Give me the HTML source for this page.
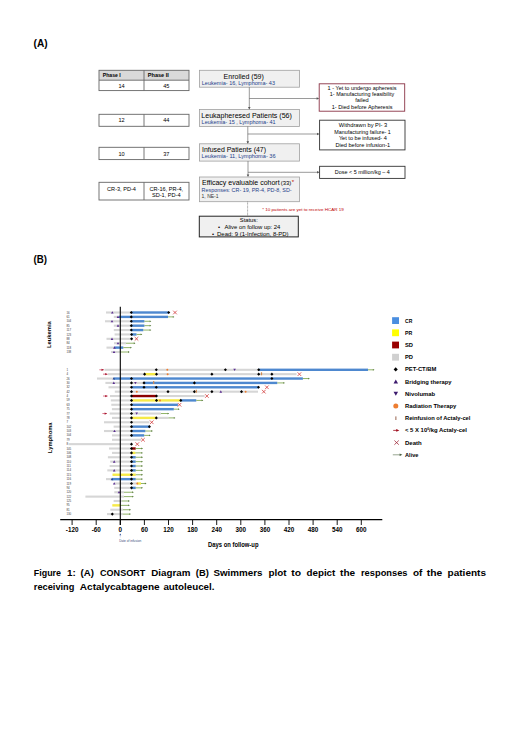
<!DOCTYPE html>
<html><head><meta charset="utf-8"><style>
html,body{margin:0;padding:0;background:#fff;}
body{width:520px;height:751px;overflow:hidden;}
svg{display:block;font-family:"Liberation Sans", sans-serif;}
</style></head><body>
<svg width="520" height="751" viewBox="0 0 520 751">
<text x="33.6" y="46.9" font-size="10" font-weight="bold" fill="#000" text-anchor="start" textLength="14.1" lengthAdjust="spacingAndGlyphs">(A)</text>
<text x="33.6" y="262.7" font-size="10" font-weight="bold" fill="#000" text-anchor="start" textLength="13.5" lengthAdjust="spacingAndGlyphs">(B)</text>
<rect x="99" y="70.3" width="90" height="9.900000000000006" fill="#d9d9d9"/>
<line x1="99" y1="80.2" x2="189" y2="80.2" stroke="#666" stroke-width="0.9"/>
<rect x="99" y="70.3" width="90" height="20.299999999999997" fill="none" stroke="#666" stroke-width="0.9"/>
<line x1="144" y1="70.3" x2="144" y2="90.6" stroke="#666" stroke-width="0.9"/>
<text x="102.8" y="77.2" font-size="5.2" font-weight="bold" fill="#000" text-anchor="start" textLength="18" lengthAdjust="spacingAndGlyphs">Phase I</text>
<text x="147.8" y="77.2" font-size="5.2" font-weight="bold" fill="#000" text-anchor="start" textLength="21" lengthAdjust="spacingAndGlyphs">Phase II</text>
<text x="121.5" y="87.6" font-size="5.6" font-weight="normal" fill="#000" text-anchor="middle">14</text>
<text x="166.3" y="87.6" font-size="5.6" font-weight="normal" fill="#000" text-anchor="middle">45</text>
<rect x="99" y="114.3" width="90" height="12.0" fill="none" stroke="#666" stroke-width="0.9"/>
<line x1="144" y1="114.3" x2="144" y2="126.3" stroke="#666" stroke-width="0.9"/>
<text x="121.5" y="122.0" font-size="5.6" font-weight="normal" fill="#000" text-anchor="middle">12</text>
<text x="166.3" y="122.0" font-size="5.6" font-weight="normal" fill="#000" text-anchor="middle">44</text>
<rect x="99" y="147.3" width="90" height="12.299999999999983" fill="none" stroke="#666" stroke-width="0.9"/>
<line x1="144" y1="147.3" x2="144" y2="159.6" stroke="#666" stroke-width="0.9"/>
<text x="121.5" y="155.5" font-size="5.6" font-weight="normal" fill="#000" text-anchor="middle">10</text>
<text x="166.3" y="155.5" font-size="5.6" font-weight="normal" fill="#000" text-anchor="middle">37</text>
<rect x="99" y="182.3" width="90" height="17.69999999999999" fill="none" stroke="#666" stroke-width="0.9"/>
<line x1="144" y1="182.3" x2="144" y2="200.0" stroke="#666" stroke-width="0.9"/>
<text x="121.5" y="190.5" font-size="5.6" font-weight="normal" fill="#000" text-anchor="middle">CR-3, PD-4</text>
<text x="166.3" y="190.5" font-size="5.6" font-weight="normal" fill="#000" text-anchor="middle">CR-16, PR-4,</text>
<text x="166.3" y="196.8" font-size="5.6" font-weight="normal" fill="#000" text-anchor="middle">SD-1, PD-4</text>
<rect x="199.5" y="70.3" width="100.0" height="16.900000000000006" fill="#f0f0f0" stroke="#a0a0a0" stroke-width="0.8"/>
<text x="243.7" y="78.8" font-size="7.2" font-weight="normal" fill="#000" text-anchor="middle" textLength="40.2" lengthAdjust="spacingAndGlyphs">Enrolled (59)</text>
<text x="201.8" y="85.2" font-size="5.0" font-weight="normal" fill="#24408a" text-anchor="start" textLength="73.2" lengthAdjust="spacingAndGlyphs">Leukemia- 16, Lymphoma- 43</text>
<rect x="199.5" y="109.5" width="100.0" height="17.0" fill="#f0f0f0" stroke="#a0a0a0" stroke-width="0.8"/>
<text x="201.3" y="117.6" font-size="7.2" font-weight="normal" fill="#000" text-anchor="start" textLength="90.6" lengthAdjust="spacingAndGlyphs">Leukapheresed Patients (56)</text>
<text x="201.6" y="124.0" font-size="5.0" font-weight="normal" fill="#24408a" text-anchor="start" textLength="74" lengthAdjust="spacingAndGlyphs">Leukemia- 15 , Lymphoma- 41</text>
<rect x="199.5" y="143.8" width="100.0" height="17.299999999999983" fill="#f0f0f0" stroke="#a0a0a0" stroke-width="0.8"/>
<text x="202.0" y="151.8" font-size="7.2" font-weight="normal" fill="#000" text-anchor="start" textLength="64" lengthAdjust="spacingAndGlyphs">Infused Patients (47)</text>
<text x="201.6" y="158.4" font-size="5.0" font-weight="normal" fill="#24408a" text-anchor="start" textLength="74" lengthAdjust="spacingAndGlyphs">Leukemia- 11, Lymphoma- 36</text>
<rect x="199.5" y="177.0" width="100.0" height="24.69999999999999" fill="#f0f0f0" stroke="#a0a0a0" stroke-width="0.8"/>
<text x="202.0" y="185.2" font-size="7.1" font-weight="normal" fill="#000" text-anchor="start" textLength="77.6" lengthAdjust="spacingAndGlyphs">Efficacy evaluable cohort</text>
<text x="280.7" y="185.2" font-size="6.0" font-weight="normal" fill="#000" text-anchor="start" textLength="10.6" lengthAdjust="spacingAndGlyphs">(33)</text>
<text x="291.7" y="184.0" font-size="6.0" font-weight="normal" fill="#c00000" text-anchor="start">*</text>
<text x="201.6" y="191.8" font-size="5.0" font-weight="normal" fill="#24408a" text-anchor="start" textLength="90" lengthAdjust="spacingAndGlyphs">Responses: CR- 19, PR-4, PD-8, SD-</text>
<text x="201.6" y="198.4" font-size="5.0" font-weight="normal" fill="#333" text-anchor="start">1, NE-1</text>
<rect x="199.3" y="216.2" width="99.0" height="20.700000000000017" fill="#f0f0f0" stroke="#222" stroke-width="1.0"/>
<text x="248.8" y="222.3" font-size="5.8" font-weight="normal" fill="#000" text-anchor="middle">Status:</text>
<text x="218.0" y="229.1" font-size="5.9" font-weight="normal" fill="#000" text-anchor="start">•</text>
<text x="224.5" y="229.1" font-size="5.9" font-weight="normal" fill="#000" text-anchor="start" textLength="55.9" lengthAdjust="spacingAndGlyphs">Alive on follow up: 24</text>
<text x="212.1" y="235.6" font-size="5.9" font-weight="normal" fill="#000" text-anchor="start">•</text>
<text x="217.0" y="235.6" font-size="5.9" font-weight="normal" fill="#000" text-anchor="start" textLength="71.6" lengthAdjust="spacingAndGlyphs">Dead: 9 (1-Infection, 8-PD)</text>
<text x="262.3" y="210.8" font-size="4.3" font-weight="normal" fill="#c00000" text-anchor="start" textLength="81.5" lengthAdjust="spacingAndGlyphs">* 10 patients are yet to receive HCAR 19</text>
<line x1="249.3" y1="87.2" x2="249.3" y2="108.5" stroke="#555" stroke-width="0.6"/>
<path d="M248.02,106.94 L250.58,106.94 L249.3,109.5 Z" fill="#555"/>
<line x1="249.3" y1="98.5" x2="318" y2="98.5" stroke="#555" stroke-width="0.6"/>
<path d="M316.64,97.22 L316.64,99.78 L319.2,98.5 Z" fill="#555"/>
<line x1="247.8" y1="126.5" x2="247.8" y2="143" stroke="#555" stroke-width="0.6"/>
<path d="M246.52,141.24 L249.08,141.24 L247.8,143.8 Z" fill="#555"/>
<line x1="247.8" y1="134.0" x2="318" y2="134.0" stroke="#555" stroke-width="0.6"/>
<path d="M317.04,132.72 L317.04,135.28 L319.6,134.0 Z" fill="#555"/>
<line x1="248" y1="161.1" x2="248" y2="176" stroke="#555" stroke-width="0.6"/>
<path d="M246.72,174.44 L249.28,174.44 L248,177.0 Z" fill="#555"/>
<line x1="248" y1="172.3" x2="318" y2="172.3" stroke="#555" stroke-width="0.6"/>
<path d="M317.04,171.02 L317.04,173.58 L319.6,172.3 Z" fill="#555"/>
<line x1="247.6" y1="201.7" x2="247.6" y2="216" stroke="#555" stroke-width="0.6" stroke-dasharray="0.8,0.6"/>
<rect x="319.2" y="83.8" width="85.5" height="27.4" fill="#fff" stroke="#8a3345" stroke-width="0.9"/>
<text x="362.1" y="89.6" font-size="5.6" font-weight="normal" fill="#000" text-anchor="middle" textLength="69" lengthAdjust="spacingAndGlyphs">1 - Yet to undergo apheresis</text>
<text x="362.0" y="95.9" font-size="5.6" font-weight="normal" fill="#000" text-anchor="middle" textLength="64.3" lengthAdjust="spacingAndGlyphs">1- Manufacturing feasibility</text>
<text x="362" y="102.2" font-size="5.6" font-weight="normal" fill="#000" text-anchor="middle">failed</text>
<text x="362.1" y="108.5" font-size="5.6" font-weight="normal" fill="#000" text-anchor="middle" textLength="60.6" lengthAdjust="spacingAndGlyphs">1- Died before Apheresis</text>
<rect x="319.6" y="120.2" width="85.4" height="29.7" fill="#fff" stroke="#333" stroke-width="0.9"/>
<text x="363.0" y="127.4" font-size="5.6" font-weight="normal" fill="#000" text-anchor="middle" textLength="48.4" lengthAdjust="spacingAndGlyphs">Withdrawn by PI- 3</text>
<text x="362.5" y="133.8" font-size="5.6" font-weight="normal" fill="#000" text-anchor="middle" textLength="56.3" lengthAdjust="spacingAndGlyphs">Manufacturing failure- 1</text>
<text x="362.9" y="140.3" font-size="5.6" font-weight="normal" fill="#000" text-anchor="middle">Yet to be infused- 4</text>
<text x="362.8" y="147.0" font-size="5.6" font-weight="normal" fill="#000" text-anchor="middle">Died before infusion-1</text>
<rect x="319.6" y="166.3" width="85.4" height="12.1" fill="#fff" stroke="#333" stroke-width="0.9"/>
<text x="362.3" y="174.2" font-size="5.6" font-weight="normal" fill="#000" text-anchor="middle" textLength="55" lengthAdjust="spacingAndGlyphs">Dose &lt; 5 million/kg – 4</text>
<rect x="106.00" y="311.45" width="25.30" height="2.1" fill="#d6d6d6"/>
<rect x="131.30" y="311.30" width="37.40" height="2.4" fill="#4e88cf"/>
<path d="M173.20,310.70 L176.80,314.30 M176.80,310.70 L173.20,314.30" stroke="#d03030" stroke-width="0.75"/>
<path d="M112.30,311.20 L113.60,313.54 L111.00,313.54 Z" fill="#5a2d91"/>
<path d="M131.30,310.95 L132.85,312.50 L131.30,314.05 L129.75,312.50 Z" fill="#000"/>
<path d="M168.70,310.95 L170.25,312.50 L168.70,314.05 L167.15,312.50 Z" fill="#000"/>
<text x="66.4" y="313.55" font-size="2.9" font-weight="normal" fill="#3a3a3a" text-anchor="start">16</text>
<rect x="113.80" y="315.84" width="5.20" height="2.1" fill="#d6d6d6"/>
<rect x="119.00" y="315.69" width="49.00" height="2.4" fill="#4e88cf"/>
<line x1="168.00" y1="316.89" x2="173.40" y2="316.89" stroke="#74a040" stroke-width="0.8"/>
<path d="M172.80,315.99 L174.40,316.89 L172.80,317.79 Z" fill="#5a7a40"/>
<path d="M118.00,315.59 L119.30,317.93 L116.70,317.93 Z" fill="#5a2d91"/>
<path d="M131.30,315.34 L132.85,316.89 L131.30,318.44 L129.75,316.89 Z" fill="#000"/>
<text x="66.4" y="317.94" font-size="2.9" font-weight="normal" fill="#3a3a3a" text-anchor="start">61</text>
<rect x="105.00" y="320.23" width="26.30" height="2.1" fill="#d6d6d6"/>
<rect x="131.30" y="320.08" width="13.10" height="2.4" fill="#4e88cf"/>
<line x1="144.40" y1="321.28" x2="150.30" y2="321.28" stroke="#74a040" stroke-width="0.8"/>
<path d="M149.70,320.38 L151.30,321.28 L149.70,322.18 Z" fill="#5a7a40"/>
<path d="M112.00,319.98 L113.30,322.32 L110.70,322.32 Z" fill="#5a2d91"/>
<path d="M131.30,319.73 L132.85,321.28 L131.30,322.83 L129.75,321.28 Z" fill="#000"/>
<text x="66.4" y="322.33" font-size="2.9" font-weight="normal" fill="#3a3a3a" text-anchor="start">104</text>
<rect x="113.80" y="324.62" width="17.50" height="2.1" fill="#d6d6d6"/>
<rect x="131.30" y="324.47" width="13.10" height="2.4" fill="#4e88cf"/>
<line x1="144.40" y1="325.67" x2="150.30" y2="325.67" stroke="#74a040" stroke-width="0.8"/>
<path d="M149.70,324.77 L151.30,325.67 L149.70,326.57 Z" fill="#5a7a40"/>
<path d="M118.00,324.37 L119.30,326.71 L116.70,326.71 Z" fill="#5a2d91"/>
<path d="M131.30,324.12 L132.85,325.67 L131.30,327.22 L129.75,325.67 Z" fill="#000"/>
<text x="66.4" y="326.72" font-size="2.9" font-weight="normal" fill="#3a3a3a" text-anchor="start">85</text>
<rect x="113.80" y="329.01" width="17.50" height="2.1" fill="#d6d6d6"/>
<rect x="131.30" y="328.86" width="12.00" height="2.4" fill="#4e88cf"/>
<line x1="143.30" y1="330.06" x2="150.30" y2="330.06" stroke="#74a040" stroke-width="0.8"/>
<path d="M149.70,329.16 L151.30,330.06 L149.70,330.96 Z" fill="#5a7a40"/>
<path d="M131.30,328.51 L132.85,330.06 L131.30,331.61 L129.75,330.06 Z" fill="#000"/>
<text x="66.4" y="331.11" font-size="2.9" font-weight="normal" fill="#3a3a3a" text-anchor="start">117</text>
<rect x="114.60" y="333.40" width="17.00" height="2.1" fill="#d6d6d6"/>
<rect x="131.60" y="333.25" width="4.90" height="2.4" fill="#4e88cf"/>
<line x1="136.50" y1="334.45" x2="141.30" y2="334.45" stroke="#74a040" stroke-width="0.8"/>
<path d="M140.70,333.55 L142.30,334.45 L140.70,335.35 Z" fill="#5a7a40"/>
<path d="M131.60,332.90 L133.15,334.45 L131.60,336.00 L130.05,334.45 Z" fill="#000"/>
<text x="66.4" y="335.5" font-size="2.9" font-weight="normal" fill="#3a3a3a" text-anchor="start">123</text>
<rect x="106.50" y="337.79" width="25.10" height="2.1" fill="#d6d6d6"/>
<path d="M134.70,337.04 L138.30,340.64 M138.30,337.04 L134.70,340.64" stroke="#d03030" stroke-width="0.75"/>
<path d="M112.00,337.54 L113.30,339.88 L110.70,339.88 Z" fill="#5a2d91"/>
<path d="M131.60,337.29 L133.15,338.84 L131.60,340.39 L130.05,338.84 Z" fill="#000"/>
<text x="66.4" y="339.89" font-size="2.9" font-weight="normal" fill="#3a3a3a" text-anchor="start">88</text>
<rect x="114.00" y="342.18" width="12.00" height="2.1" fill="#d6d6d6"/>
<line x1="126.00" y1="343.23" x2="134.40" y2="343.23" stroke="#74a040" stroke-width="0.8"/>
<path d="M133.80,342.33 L135.40,343.23 L133.80,344.13 Z" fill="#5a7a40"/>
<path d="M118.00,341.93 L119.30,344.27 L116.70,344.27 Z" fill="#5a2d91"/>
<text x="66.4" y="344.28000000000003" font-size="2.9" font-weight="normal" fill="#3a3a3a" text-anchor="start">84</text>
<rect x="106.50" y="346.57" width="7.90" height="2.1" fill="#d6d6d6"/>
<rect x="114.40" y="346.42" width="8.90" height="2.4" fill="#4e88cf"/>
<line x1="123.30" y1="347.62" x2="130.90" y2="347.62" stroke="#74a040" stroke-width="0.8"/>
<path d="M130.30,346.72 L131.90,347.62 L130.30,348.52 Z" fill="#5a7a40"/>
<path d="M114.40,346.32 L115.70,348.66 L113.10,348.66 Z" fill="#5a2d91"/>
<text x="66.4" y="348.67" font-size="2.9" font-weight="normal" fill="#3a3a3a" text-anchor="start">118</text>
<rect x="111.00" y="350.96" width="8.80" height="2.1" fill="#d6d6d6"/>
<line x1="119.80" y1="352.01" x2="128.60" y2="352.01" stroke="#74a040" stroke-width="0.8"/>
<path d="M128.00,351.11 L129.60,352.01 L128.00,352.91 Z" fill="#5a7a40"/>
<path d="M114.00,350.71 L115.30,353.05 L112.70,353.05 Z" fill="#5a2d91"/>
<text x="66.4" y="353.06" font-size="2.9" font-weight="normal" fill="#3a3a3a" text-anchor="start">138</text>
<rect x="104.50" y="368.75" width="154.20" height="2.1" fill="#d6d6d6"/>
<rect x="258.70" y="368.60" width="109.30" height="2.4" fill="#4e88cf"/>
<line x1="368.00" y1="369.80" x2="373.50" y2="369.80" stroke="#74a040" stroke-width="0.8"/>
<path d="M372.90,368.90 L374.50,369.80 L372.90,370.70 Z" fill="#5a7a40"/>
<line x1="99.30" y1="369.80" x2="103.80" y2="369.80" stroke="#c02040" stroke-width="0.6"/>
<path d="M101.50,368.70 L103.90,369.80 L101.50,370.90 Z" fill="#a81830"/>
<path d="M156.30,368.25 L157.85,369.80 L156.30,371.35 L154.75,369.80 Z" fill="#000"/>
<circle cx="167.30" cy="369.80" r="1.0" fill="#ed7d31"/>
<path d="M225.40,368.25 L226.95,369.80 L225.40,371.35 L223.85,369.80 Z" fill="#000"/>
<path d="M234.60,371.10 L235.90,368.76 L233.30,368.76 Z" fill="#5a2d91"/>
<path d="M258.70,368.25 L260.25,369.80 L258.70,371.35 L257.15,369.80 Z" fill="#000"/>
<text x="66.4" y="370.85" font-size="2.9" font-weight="normal" fill="#3a3a3a" text-anchor="start">1</text>
<rect x="108.00" y="373.12" width="188.50" height="2.1" fill="#d6d6d6"/>
<rect x="144.60" y="372.97" width="11.90" height="2.4" fill="#f6ea48"/>
<path d="M297.60,372.37 L301.20,375.97 M301.20,372.37 L297.60,375.97" stroke="#d03030" stroke-width="0.75"/>
<line x1="103.00" y1="374.17" x2="107.50" y2="374.17" stroke="#c02040" stroke-width="0.6"/>
<path d="M105.20,373.07 L107.60,374.17 L105.20,375.27 Z" fill="#a81830"/>
<path d="M144.60,372.62 L146.15,374.17 L144.60,375.72 L143.05,374.17 Z" fill="#000"/>
<path d="M156.50,372.62 L158.05,374.17 L156.50,375.72 L154.95,374.17 Z" fill="#000"/>
<circle cx="167.60" cy="374.17" r="1.0" fill="#ed7d31"/>
<path d="M211.90,372.62 L213.45,374.17 L211.90,375.72 L210.35,374.17 Z" fill="#000"/>
<path d="M258.70,372.62 L260.25,374.17 L258.70,375.72 L257.15,374.17 Z" fill="#000"/>
<rect x="260.90" y="372.27" width="1.2" height="3.0" fill="#d08a50"/>
<path d="M271.90,372.62 L273.45,374.17 L271.90,375.72 L270.35,374.17 Z" fill="#000"/>
<text x="66.4" y="375.223" font-size="2.9" font-weight="normal" fill="#3a3a3a" text-anchor="start">4</text>
<rect x="97.00" y="377.50" width="16.80" height="2.1" fill="#d6d6d6"/>
<rect x="113.80" y="377.35" width="189.10" height="2.4" fill="#4e88cf"/>
<line x1="302.90" y1="378.55" x2="308.80" y2="378.55" stroke="#74a040" stroke-width="0.8"/>
<path d="M308.20,377.65 L309.80,378.55 L308.20,379.45 Z" fill="#5a7a40"/>
<path d="M113.80,377.25 L115.10,379.59 L112.50,379.59 Z" fill="#1f3f8f"/>
<path d="M131.50,377.00 L133.05,378.55 L131.50,380.10 L129.95,378.55 Z" fill="#000"/>
<path d="M271.90,377.00 L273.45,378.55 L271.90,380.10 L270.35,378.55 Z" fill="#000"/>
<text x="66.4" y="379.596" font-size="2.9" font-weight="normal" fill="#3a3a3a" text-anchor="start">26</text>
<rect x="105.40" y="381.87" width="38.60" height="2.1" fill="#d6d6d6"/>
<rect x="144.00" y="381.72" width="133.30" height="2.4" fill="#4e88cf"/>
<line x1="277.30" y1="382.92" x2="284.00" y2="382.92" stroke="#74a040" stroke-width="0.8"/>
<path d="M283.40,382.02 L285.00,382.92 L283.40,383.82 Z" fill="#5a7a40"/>
<path d="M113.80,381.62 L115.10,383.96 L112.50,383.96 Z" fill="#5a2d91"/>
<path d="M131.50,381.37 L133.05,382.92 L131.50,384.47 L129.95,382.92 Z" fill="#000"/>
<path d="M135.40,384.22 L136.70,381.88 L134.10,381.88 Z" fill="#5a2d91"/>
<path d="M144.00,381.37 L145.55,382.92 L144.00,384.47 L142.45,382.92 Z" fill="#000"/>
<rect x="153.10" y="381.02" width="1.2" height="3.0" fill="#d08a50"/>
<path d="M194.40,381.37 L195.95,382.92 L194.40,384.47 L192.85,382.92 Z" fill="#000"/>
<text x="66.4" y="383.969" font-size="2.9" font-weight="normal" fill="#3a3a3a" text-anchor="start">30</text>
<rect x="108.50" y="386.24" width="23.00" height="2.1" fill="#d6d6d6"/>
<rect x="131.50" y="386.09" width="127.00" height="2.4" fill="#4e88cf"/>
<path d="M265.10,385.49 L268.70,389.09 M268.70,385.49 L265.10,389.09" stroke="#d03030" stroke-width="0.75"/>
<path d="M131.50,385.74 L133.05,387.29 L131.50,388.84 L129.95,387.29 Z" fill="#000"/>
<path d="M144.00,385.74 L145.55,387.29 L144.00,388.84 L142.45,387.29 Z" fill="#000"/>
<path d="M156.30,385.74 L157.85,387.29 L156.30,388.84 L154.75,387.29 Z" fill="#000"/>
<path d="M258.50,385.74 L260.05,387.29 L258.50,388.84 L256.95,387.29 Z" fill="#000"/>
<text x="66.4" y="388.34200000000004" font-size="2.9" font-weight="normal" fill="#3a3a3a" text-anchor="start">32</text>
<rect x="114.80" y="390.62" width="143.20" height="2.1" fill="#d6d6d6"/>
<path d="M262.00,389.87 L265.60,393.47 M265.60,389.87 L262.00,393.47" stroke="#d03030" stroke-width="0.75"/>
<path d="M131.50,390.12 L133.05,391.67 L131.50,393.22 L129.95,391.67 Z" fill="#000"/>
<circle cx="136.80" cy="391.67" r="1.0" fill="#ed7d31"/>
<path d="M168.00,390.12 L169.55,391.67 L168.00,393.22 L166.45,391.67 Z" fill="#000"/>
<path d="M194.40,390.12 L195.95,391.67 L194.40,393.22 L192.85,391.67 Z" fill="#000"/>
<rect x="195.70" y="389.77" width="1.2" height="3.0" fill="#d08a50"/>
<path d="M211.90,390.12 L213.45,391.67 L211.90,393.22 L210.35,391.67 Z" fill="#000"/>
<path d="M220.80,390.37 L222.10,392.71 L219.50,392.71 Z" fill="#5a2d91"/>
<path d="M241.50,390.12 L243.05,391.67 L241.50,393.22 L239.95,391.67 Z" fill="#000"/>
<circle cx="245.60" cy="391.67" r="1.0" fill="#ed7d31"/>
<text x="66.4" y="392.71500000000003" font-size="2.9" font-weight="normal" fill="#3a3a3a" text-anchor="start">42</text>
<rect x="110.00" y="394.99" width="21.50" height="2.1" fill="#d6d6d6"/>
<rect x="131.50" y="394.84" width="25.00" height="2.4" fill="#8b0000"/>
<rect x="156.50" y="394.99" width="48.10" height="2.1" fill="#d6d6d6"/>
<path d="M205.10,394.24 L208.70,397.84 M208.70,394.24 L205.10,397.84" stroke="#d03030" stroke-width="0.75"/>
<line x1="103.00" y1="396.04" x2="107.50" y2="396.04" stroke="#c02040" stroke-width="0.6"/>
<path d="M105.20,394.94 L107.60,396.04 L105.20,397.14 Z" fill="#a81830"/>
<path d="M131.50,394.49 L133.05,396.04 L131.50,397.59 L129.95,396.04 Z" fill="#000"/>
<path d="M156.50,394.49 L158.05,396.04 L156.50,397.59 L154.95,396.04 Z" fill="#000"/>
<text x="66.4" y="397.088" font-size="2.9" font-weight="normal" fill="#3a3a3a" text-anchor="start">4</text>
<rect x="110.80" y="399.36" width="20.70" height="2.1" fill="#d6d6d6"/>
<rect x="131.50" y="399.21" width="49.30" height="2.4" fill="#f6ea48"/>
<rect x="180.80" y="399.21" width="15.50" height="2.4" fill="#4e88cf"/>
<line x1="196.30" y1="400.41" x2="202.30" y2="400.41" stroke="#74a040" stroke-width="0.8"/>
<path d="M201.70,399.51 L203.30,400.41 L201.70,401.31 Z" fill="#5a7a40"/>
<path d="M131.50,398.86 L133.05,400.41 L131.50,401.96 L129.95,400.41 Z" fill="#000"/>
<path d="M156.50,398.86 L158.05,400.41 L156.50,401.96 L154.95,400.41 Z" fill="#000"/>
<circle cx="160.00" cy="400.41" r="1.0" fill="#ed7d31"/>
<path d="M180.80,398.86 L182.35,400.41 L180.80,401.96 L179.25,400.41 Z" fill="#000"/>
<text x="66.4" y="401.461" font-size="2.9" font-weight="normal" fill="#3a3a3a" text-anchor="start">59</text>
<rect x="111.30" y="403.73" width="20.20" height="2.1" fill="#d6d6d6"/>
<rect x="131.50" y="403.58" width="46.40" height="2.4" fill="#4e88cf"/>
<path d="M177.70,402.98 L181.30,406.58 M181.30,402.98 L177.70,406.58" stroke="#d03030" stroke-width="0.75"/>
<path d="M131.50,403.23 L133.05,404.78 L131.50,406.33 L129.95,404.78 Z" fill="#000"/>
<text x="66.4" y="405.834" font-size="2.9" font-weight="normal" fill="#3a3a3a" text-anchor="start">63</text>
<rect x="111.90" y="408.11" width="19.60" height="2.1" fill="#d6d6d6"/>
<rect x="131.50" y="407.96" width="42.30" height="2.4" fill="#4e88cf"/>
<line x1="173.80" y1="409.16" x2="178.60" y2="409.16" stroke="#74a040" stroke-width="0.8"/>
<path d="M178.00,408.26 L179.60,409.16 L178.00,410.06 Z" fill="#5a7a40"/>
<path d="M131.50,407.61 L133.05,409.16 L131.50,410.71 L129.95,409.16 Z" fill="#000"/>
<text x="66.4" y="410.20700000000005" font-size="2.9" font-weight="normal" fill="#3a3a3a" text-anchor="start">75</text>
<rect x="109.70" y="412.48" width="51.30" height="2.1" fill="#d6d6d6"/>
<line x1="161.00" y1="413.53" x2="168.20" y2="413.53" stroke="#74a040" stroke-width="0.8"/>
<path d="M167.60,412.63 L169.20,413.53 L167.60,414.43 Z" fill="#5a7a40"/>
<line x1="102.40" y1="413.53" x2="106.90" y2="413.53" stroke="#c02040" stroke-width="0.6"/>
<path d="M104.60,412.43 L107.00,413.53 L104.60,414.63 Z" fill="#a81830"/>
<path d="M131.50,411.98 L133.05,413.53 L131.50,415.08 L129.95,413.53 Z" fill="#000"/>
<path d="M136.70,414.83 L138.00,412.49 L135.40,412.49 Z" fill="#5a2d91"/>
<text x="66.4" y="414.58000000000004" font-size="2.9" font-weight="normal" fill="#3a3a3a" text-anchor="start">77</text>
<rect x="112.00" y="416.85" width="19.50" height="2.1" fill="#d6d6d6"/>
<rect x="131.50" y="416.70" width="24.80" height="2.4" fill="#f6ea48"/>
<rect x="156.30" y="416.85" width="12.20" height="2.1" fill="#d6d6d6"/>
<line x1="168.50" y1="417.90" x2="174.40" y2="417.90" stroke="#74a040" stroke-width="0.8"/>
<path d="M173.80,417.00 L175.40,417.90 L173.80,418.80 Z" fill="#5a7a40"/>
<path d="M131.50,416.35 L133.05,417.90 L131.50,419.45 L129.95,417.90 Z" fill="#000"/>
<path d="M156.30,416.35 L157.85,417.90 L156.30,419.45 L154.75,417.90 Z" fill="#000"/>
<text x="66.4" y="418.95300000000003" font-size="2.9" font-weight="normal" fill="#3a3a3a" text-anchor="start">78</text>
<rect x="104.00" y="421.23" width="45.40" height="2.1" fill="#d6d6d6"/>
<path d="M149.90,420.48 L153.50,424.08 M153.50,420.48 L149.90,424.08" stroke="#d03030" stroke-width="0.75"/>
<path d="M131.50,420.73 L133.05,422.28 L131.50,423.83 L129.95,422.28 Z" fill="#000"/>
<text x="66.4" y="423.326" font-size="2.9" font-weight="normal" fill="#3a3a3a" text-anchor="start">7</text>
<rect x="113.60" y="425.60" width="17.90" height="2.1" fill="#d6d6d6"/>
<rect x="131.50" y="425.45" width="17.90" height="2.4" fill="#4e88cf"/>
<path d="M131.50,425.10 L133.05,426.65 L131.50,428.20 L129.95,426.65 Z" fill="#000"/>
<path d="M149.40,425.10 L150.95,426.65 L149.40,428.20 L147.85,426.65 Z" fill="#000"/>
<text x="66.4" y="427.699" font-size="2.9" font-weight="normal" fill="#3a3a3a" text-anchor="start">102</text>
<rect x="104.00" y="429.97" width="27.50" height="2.1" fill="#d6d6d6"/>
<rect x="131.50" y="429.82" width="13.90" height="2.4" fill="#4e88cf"/>
<line x1="145.40" y1="431.02" x2="151.90" y2="431.02" stroke="#74a040" stroke-width="0.8"/>
<path d="M151.30,430.12 L152.90,431.02 L151.30,431.92 Z" fill="#5a7a40"/>
<path d="M114.50,429.72 L115.80,432.06 L113.20,432.06 Z" fill="#5a2d91"/>
<path d="M131.50,429.47 L133.05,431.02 L131.50,432.57 L129.95,431.02 Z" fill="#000"/>
<text x="66.4" y="432.072" font-size="2.9" font-weight="normal" fill="#3a3a3a" text-anchor="start">103</text>
<rect x="112.00" y="434.34" width="19.50" height="2.1" fill="#d6d6d6"/>
<rect x="131.50" y="434.19" width="12.70" height="2.4" fill="#4e88cf"/>
<line x1="144.20" y1="435.39" x2="149.60" y2="435.39" stroke="#74a040" stroke-width="0.8"/>
<path d="M149.00,434.50 L150.60,435.39 L149.00,436.29 Z" fill="#5a7a40"/>
<path d="M131.50,433.84 L133.05,435.39 L131.50,436.94 L129.95,435.39 Z" fill="#000"/>
<text x="66.4" y="436.445" font-size="2.9" font-weight="normal" fill="#3a3a3a" text-anchor="start">104</text>
<rect x="112.00" y="438.72" width="29.30" height="2.1" fill="#d6d6d6"/>
<path d="M141.20,437.97 L144.80,441.57 M144.80,437.97 L141.20,441.57" stroke="#d03030" stroke-width="0.75"/>
<text x="66.4" y="440.81800000000004" font-size="2.9" font-weight="normal" fill="#3a3a3a" text-anchor="start">79</text>
<rect x="68.60" y="443.09" width="62.90" height="2.1" fill="#d6d6d6"/>
<path d="M135.50,442.34 L139.10,445.94 M139.10,442.34 L135.50,445.94" stroke="#d03030" stroke-width="0.75"/>
<path d="M131.50,442.59 L133.05,444.14 L131.50,445.69 L129.95,444.14 Z" fill="#000"/>
<text x="66.4" y="445.19100000000003" font-size="2.9" font-weight="normal" fill="#3a3a3a" text-anchor="start">8</text>
<rect x="109.00" y="447.46" width="22.50" height="2.1" fill="#d6d6d6"/>
<rect x="131.50" y="447.31" width="4.20" height="2.4" fill="#8b0000"/>
<line x1="135.70" y1="448.51" x2="142.00" y2="448.51" stroke="#74a040" stroke-width="0.8"/>
<path d="M141.40,447.61 L143.00,448.51 L141.40,449.41 Z" fill="#5a7a40"/>
<path d="M131.50,446.96 L133.05,448.51 L131.50,450.06 L129.95,448.51 Z" fill="#000"/>
<text x="66.4" y="449.564" font-size="2.9" font-weight="normal" fill="#3a3a3a" text-anchor="start">105</text>
<rect x="112.00" y="451.84" width="19.50" height="2.1" fill="#d6d6d6"/>
<rect x="131.50" y="451.69" width="3.90" height="2.4" fill="#f6ea48"/>
<line x1="135.40" y1="452.89" x2="142.00" y2="452.89" stroke="#74a040" stroke-width="0.8"/>
<path d="M141.40,451.99 L143.00,452.89 L141.40,453.79 Z" fill="#5a7a40"/>
<path d="M131.50,451.34 L133.05,452.89 L131.50,454.44 L129.95,452.89 Z" fill="#000"/>
<text x="66.4" y="453.937" font-size="2.9" font-weight="normal" fill="#3a3a3a" text-anchor="start">106</text>
<rect x="107.90" y="456.21" width="23.60" height="2.1" fill="#d6d6d6"/>
<rect x="131.50" y="456.06" width="4.20" height="2.4" fill="#4e88cf"/>
<line x1="135.70" y1="457.26" x2="142.00" y2="457.26" stroke="#74a040" stroke-width="0.8"/>
<path d="M141.40,456.36 L143.00,457.26 L141.40,458.16 Z" fill="#5a7a40"/>
<path d="M131.50,455.71 L133.05,457.26 L131.50,458.81 L129.95,457.26 Z" fill="#000"/>
<text x="66.4" y="458.31" font-size="2.9" font-weight="normal" fill="#3a3a3a" text-anchor="start">108</text>
<rect x="110.20" y="460.58" width="21.30" height="2.1" fill="#d6d6d6"/>
<rect x="131.50" y="460.43" width="4.20" height="2.4" fill="#4e88cf"/>
<line x1="135.70" y1="461.63" x2="142.00" y2="461.63" stroke="#74a040" stroke-width="0.8"/>
<path d="M141.40,460.73 L143.00,461.63 L141.40,462.53 Z" fill="#5a7a40"/>
<path d="M114.20,460.33 L115.50,462.67 L112.90,462.67 Z" fill="#5a2d91"/>
<path d="M131.50,460.08 L133.05,461.63 L131.50,463.18 L129.95,461.63 Z" fill="#000"/>
<text x="66.4" y="462.68300000000005" font-size="2.9" font-weight="normal" fill="#3a3a3a" text-anchor="start">110</text>
<rect x="109.60" y="464.96" width="21.90" height="2.1" fill="#d6d6d6"/>
<rect x="131.50" y="464.81" width="4.20" height="2.4" fill="#4e88cf"/>
<line x1="135.70" y1="466.01" x2="142.00" y2="466.01" stroke="#74a040" stroke-width="0.8"/>
<path d="M141.40,465.11 L143.00,466.01 L141.40,466.91 Z" fill="#5a7a40"/>
<path d="M131.50,464.46 L133.05,466.01 L131.50,467.56 L129.95,466.01 Z" fill="#000"/>
<text x="66.4" y="467.05600000000004" font-size="2.9" font-weight="normal" fill="#3a3a3a" text-anchor="start">111</text>
<rect x="107.30" y="469.33" width="24.20" height="2.1" fill="#d6d6d6"/>
<rect x="131.50" y="469.18" width="4.20" height="2.4" fill="#4e88cf"/>
<line x1="135.70" y1="470.38" x2="142.00" y2="470.38" stroke="#74a040" stroke-width="0.8"/>
<path d="M141.40,469.48 L143.00,470.38 L141.40,471.28 Z" fill="#5a7a40"/>
<path d="M114.20,469.08 L115.50,471.42 L112.90,471.42 Z" fill="#5a2d91"/>
<path d="M131.50,468.83 L133.05,470.38 L131.50,471.93 L129.95,470.38 Z" fill="#000"/>
<text x="66.4" y="471.42900000000003" font-size="2.9" font-weight="normal" fill="#3a3a3a" text-anchor="start">114</text>
<rect x="112.50" y="473.55" width="23.20" height="2.4" fill="#f6ea48"/>
<line x1="135.70" y1="474.75" x2="142.00" y2="474.75" stroke="#74a040" stroke-width="0.8"/>
<path d="M141.40,473.85 L143.00,474.75 L141.40,475.65 Z" fill="#5a7a40"/>
<path d="M131.50,473.20 L133.05,474.75 L131.50,476.30 L129.95,474.75 Z" fill="#000"/>
<text x="66.4" y="475.802" font-size="2.9" font-weight="normal" fill="#3a3a3a" text-anchor="start">115</text>
<rect x="106.00" y="478.07" width="6.00" height="2.1" fill="#d6d6d6"/>
<rect x="112.00" y="477.93" width="23.70" height="2.4" fill="#4e88cf"/>
<line x1="135.70" y1="479.12" x2="142.00" y2="479.12" stroke="#74a040" stroke-width="0.8"/>
<path d="M141.40,478.23 L143.00,479.12 L141.40,480.02 Z" fill="#5a7a40"/>
<path d="M112.00,477.82 L113.30,480.17 L110.70,480.17 Z" fill="#1f3f8f"/>
<path d="M131.50,477.57 L133.05,479.12 L131.50,480.68 L129.95,479.12 Z" fill="#000"/>
<text x="66.4" y="480.175" font-size="2.9" font-weight="normal" fill="#3a3a3a" text-anchor="start">116</text>
<rect x="114.20" y="482.45" width="23.10" height="2.1" fill="#d6d6d6"/>
<rect x="137.30" y="482.30" width="3.70" height="2.4" fill="#f6ea48"/>
<line x1="141.00" y1="483.50" x2="145.50" y2="483.50" stroke="#74a040" stroke-width="0.8"/>
<path d="M144.90,482.60 L146.50,483.50 L144.90,484.40 Z" fill="#5a7a40"/>
<path d="M114.20,482.20 L115.50,484.54 L112.90,484.54 Z" fill="#5a2d91"/>
<path d="M131.50,481.95 L133.05,483.50 L131.50,485.05 L129.95,483.50 Z" fill="#000"/>
<circle cx="137.30" cy="483.50" r="1.0" fill="#ed7d31"/>
<text x="66.4" y="484.54800000000006" font-size="2.9" font-weight="normal" fill="#3a3a3a" text-anchor="start">119</text>
<rect x="114.20" y="486.82" width="17.30" height="2.1" fill="#d6d6d6"/>
<rect x="131.50" y="486.67" width="4.20" height="2.4" fill="#4e88cf"/>
<line x1="135.70" y1="487.87" x2="142.00" y2="487.87" stroke="#74a040" stroke-width="0.8"/>
<path d="M141.40,486.97 L143.00,487.87 L141.40,488.77 Z" fill="#5a7a40"/>
<path d="M131.50,486.32 L133.05,487.87 L131.50,489.42 L129.95,487.87 Z" fill="#000"/>
<text x="66.4" y="488.92100000000005" font-size="2.9" font-weight="normal" fill="#3a3a3a" text-anchor="start">94</text>
<rect x="114.30" y="491.19" width="9.70" height="2.1" fill="#d6d6d6"/>
<line x1="124.00" y1="492.24" x2="132.80" y2="492.24" stroke="#74a040" stroke-width="0.8"/>
<path d="M132.20,491.34 L133.80,492.24 L132.20,493.14 Z" fill="#5a7a40"/>
<path d="M119.00,490.94 L120.30,493.28 L117.70,493.28 Z" fill="#5a2d91"/>
<text x="66.4" y="493.29400000000004" font-size="2.9" font-weight="normal" fill="#3a3a3a" text-anchor="start">120</text>
<rect x="85.40" y="495.57" width="38.60" height="2.1" fill="#d6d6d6"/>
<line x1="124.00" y1="496.62" x2="132.80" y2="496.62" stroke="#74a040" stroke-width="0.8"/>
<path d="M132.20,495.72 L133.80,496.62 L132.20,497.52 Z" fill="#5a7a40"/>
<text x="66.4" y="497.66700000000003" font-size="2.9" font-weight="normal" fill="#3a3a3a" text-anchor="start">122</text>
<rect x="113.60" y="499.94" width="8.40" height="2.1" fill="#d6d6d6"/>
<line x1="122.00" y1="500.99" x2="128.80" y2="500.99" stroke="#74a040" stroke-width="0.8"/>
<path d="M128.20,500.09 L129.80,500.99 L128.20,501.89 Z" fill="#5a7a40"/>
<text x="66.4" y="502.04" font-size="2.9" font-weight="normal" fill="#3a3a3a" text-anchor="start">125</text>
<rect x="112.30" y="504.16" width="8.10" height="2.4" fill="#f6ea48"/>
<line x1="120.40" y1="505.36" x2="128.80" y2="505.36" stroke="#74a040" stroke-width="0.8"/>
<path d="M128.20,504.46 L129.80,505.36 L128.20,506.26 Z" fill="#5a7a40"/>
<text x="66.4" y="506.41300000000007" font-size="2.9" font-weight="normal" fill="#3a3a3a" text-anchor="start">95</text>
<rect x="110.30" y="508.69" width="12.70" height="2.1" fill="#d6d6d6"/>
<line x1="123.00" y1="509.74" x2="130.00" y2="509.74" stroke="#74a040" stroke-width="0.8"/>
<path d="M129.40,508.84 L131.00,509.74 L129.40,510.64 Z" fill="#5a7a40"/>
<text x="66.4" y="510.786" font-size="2.9" font-weight="normal" fill="#3a3a3a" text-anchor="start">81</text>
<rect x="107.00" y="513.06" width="16.00" height="2.1" fill="#d6d6d6"/>
<line x1="123.00" y1="514.11" x2="130.00" y2="514.11" stroke="#74a040" stroke-width="0.8"/>
<path d="M129.40,513.21 L131.00,514.11 L129.40,515.01 Z" fill="#5a7a40"/>
<path d="M112.30,512.56 L113.85,514.11 L112.30,515.66 L110.75,514.11 Z" fill="#000"/>
<text x="66.4" y="515.159" font-size="2.9" font-weight="normal" fill="#3a3a3a" text-anchor="start">130</text>
<line x1="120.3" y1="306.7" x2="120.3" y2="525" stroke="#000" stroke-width="1.1"/>
<line x1="60.2" y1="519.7" x2="382.3" y2="519.7" stroke="#000" stroke-width="1.3"/>
<line x1="72.10" y1="519.7" x2="72.10" y2="525" stroke="#000" stroke-width="0.9"/>
<text x="72.1" y="532.0" font-size="6.3" font-weight="bold" fill="#000" text-anchor="middle">-120</text>
<line x1="96.20" y1="519.7" x2="96.20" y2="525" stroke="#000" stroke-width="0.9"/>
<text x="96.2" y="532.0" font-size="6.3" font-weight="bold" fill="#000" text-anchor="middle">-60</text>
<line x1="120.30" y1="519.7" x2="120.30" y2="525" stroke="#000" stroke-width="0.9"/>
<text x="120.3" y="532.0" font-size="6.3" font-weight="bold" fill="#000" text-anchor="middle">0</text>
<line x1="144.40" y1="519.7" x2="144.40" y2="525" stroke="#000" stroke-width="0.9"/>
<text x="144.4" y="532.0" font-size="6.3" font-weight="bold" fill="#000" text-anchor="middle">60</text>
<line x1="168.50" y1="519.7" x2="168.50" y2="525" stroke="#000" stroke-width="0.9"/>
<text x="168.5" y="532.0" font-size="6.3" font-weight="bold" fill="#000" text-anchor="middle">120</text>
<line x1="192.60" y1="519.7" x2="192.60" y2="525" stroke="#000" stroke-width="0.9"/>
<text x="192.6" y="532.0" font-size="6.3" font-weight="bold" fill="#000" text-anchor="middle">180</text>
<line x1="216.70" y1="519.7" x2="216.70" y2="525" stroke="#000" stroke-width="0.9"/>
<text x="216.7" y="532.0" font-size="6.3" font-weight="bold" fill="#000" text-anchor="middle">240</text>
<line x1="240.80" y1="519.7" x2="240.80" y2="525" stroke="#000" stroke-width="0.9"/>
<text x="240.8" y="532.0" font-size="6.3" font-weight="bold" fill="#000" text-anchor="middle">300</text>
<line x1="264.90" y1="519.7" x2="264.90" y2="525" stroke="#000" stroke-width="0.9"/>
<text x="264.9" y="532.0" font-size="6.3" font-weight="bold" fill="#000" text-anchor="middle">360</text>
<line x1="289.00" y1="519.7" x2="289.00" y2="525" stroke="#000" stroke-width="0.9"/>
<text x="289.0" y="532.0" font-size="6.3" font-weight="bold" fill="#000" text-anchor="middle">420</text>
<line x1="313.10" y1="519.7" x2="313.10" y2="525" stroke="#000" stroke-width="0.9"/>
<text x="313.1" y="532.0" font-size="6.3" font-weight="bold" fill="#000" text-anchor="middle">480</text>
<line x1="337.20" y1="519.7" x2="337.20" y2="525" stroke="#000" stroke-width="0.9"/>
<text x="337.2" y="532.0" font-size="6.3" font-weight="bold" fill="#000" text-anchor="middle">540</text>
<line x1="361.30" y1="519.7" x2="361.30" y2="525" stroke="#000" stroke-width="0.9"/>
<text x="361.3" y="532.0" font-size="6.3" font-weight="bold" fill="#000" text-anchor="middle">600</text>
<path d="M119.39999999999999,535.2 L121.2,535.2 L120.3,533.4 Z" fill="#2a4d9b"/>
<line x1="120.3" y1="535" x2="120.3" y2="537.5" stroke="#8aa0cc" stroke-width="0.3"/>
<text x="119.2" y="542.2" font-size="2.8" font-weight="normal" fill="#3a4a7a" text-anchor="start" textLength="22" lengthAdjust="spacingAndGlyphs">Date of infusion</text>
<text x="208" y="546.8" font-size="6.3" font-weight="bold" fill="#000" text-anchor="start" textLength="50.5" lengthAdjust="spacingAndGlyphs">Days on follow-up</text>
<text transform="translate(50.9,334.6) rotate(-90)" font-size="5.9" font-weight="bold" text-anchor="middle" textLength="26.6" lengthAdjust="spacingAndGlyphs">Leukemia</text>
<text transform="translate(51.6,437.8) rotate(-90)" font-size="5.9" font-weight="bold" text-anchor="middle" textLength="30.7" lengthAdjust="spacingAndGlyphs">Lymphoma</text>
<text x="405" y="322.6" font-size="6.0" font-weight="bold" fill="#000" text-anchor="start" textLength="7.3" lengthAdjust="spacingAndGlyphs">CR</text>
<text x="405" y="334.8" font-size="6.0" font-weight="bold" fill="#000" text-anchor="start" textLength="7.3" lengthAdjust="spacingAndGlyphs">PR</text>
<text x="405" y="347.0" font-size="6.0" font-weight="bold" fill="#000" text-anchor="start" textLength="8" lengthAdjust="spacingAndGlyphs">SD</text>
<text x="405" y="359.2" font-size="6.0" font-weight="bold" fill="#000" text-anchor="start" textLength="8" lengthAdjust="spacingAndGlyphs">PD</text>
<text x="405" y="371.4" font-size="6.0" font-weight="bold" fill="#000" text-anchor="start" textLength="31.3" lengthAdjust="spacingAndGlyphs">PET-CT/BM</text>
<text x="405" y="383.6" font-size="6.0" font-weight="bold" fill="#000" text-anchor="start" textLength="46.5" lengthAdjust="spacingAndGlyphs">Bridging therapy</text>
<text x="405" y="395.8" font-size="6.0" font-weight="bold" fill="#000" text-anchor="start" textLength="30.2" lengthAdjust="spacingAndGlyphs">Nivolumab</text>
<text x="405" y="408.0" font-size="6.0" font-weight="bold" fill="#000" text-anchor="start" textLength="51.3" lengthAdjust="spacingAndGlyphs">Radiation Therapy</text>
<text x="405" y="420.2" font-size="6.0" font-weight="bold" fill="#000" text-anchor="start" textLength="65.4" lengthAdjust="spacingAndGlyphs">Reinfusion of Actaly-cel</text>
<text x="405" y="444.6" font-size="6.0" font-weight="bold" fill="#000" text-anchor="start" textLength="16.7" lengthAdjust="spacingAndGlyphs">Death</text>
<text x="405" y="456.8" font-size="6.0" font-weight="bold" fill="#000" text-anchor="start" textLength="13.5" lengthAdjust="spacingAndGlyphs">Alive</text>
<text x="405" y="432.40" font-size="6.0" font-weight="bold" textLength="62" lengthAdjust="spacingAndGlyphs">&lt; 5 X 10<tspan font-size="3.4" dy="-2.2">6</tspan><tspan dy="2.2">/kg Actaly-cel</tspan></text>
<rect x="392.1" y="317.20" width="6.9" height="6.8" fill="#4a8ee0"/>
<rect x="392.1" y="329.40" width="6.9" height="6.8" fill="#ffff00"/>
<rect x="392.1" y="341.60" width="6.9" height="6.8" fill="#990000"/>
<rect x="392.1" y="353.80" width="6.9" height="6.8" fill="#d0d0d0"/>
<path d="M395.70,367.35 L397.75,369.40 L395.70,371.45 L393.65,369.40 Z" fill="#000"/>
<path d="M395.80,379.55 L398.05,383.60 L393.55,383.60 Z" fill="#3c1a6e"/>
<path d="M395.80,395.85 L398.05,391.80 L393.55,391.80 Z" fill="#3c1a6e"/>
<circle cx="395.80" cy="406.00" r="2.5" fill="#ed7d31"/>
<rect x="395.2" y="416.40" width="1.3" height="3.6" fill="#b08878"/>
<line x1="393.2" y1="430.40" x2="398" y2="430.40" stroke="#a01020" stroke-width="0.8"/>
<path d="M396.2,429.00 L399.4,430.40 L396.2,431.80 Z" fill="#a01020"/>
<path d="M394.4,440.50 L398.8,444.70 M398.8,440.50 L394.4,444.70" stroke="#a02838" stroke-width="0.8"/>
<line x1="392.8" y1="454.80" x2="401" y2="454.80" stroke="#6a8060" stroke-width="0.7"/>
<path d="M399.6,453.60 L402.4,454.80 L399.6,456.00 Z" fill="#4a6040"/>
<text x="33.8" y="575.8" font-size="9.8" font-weight="bold" fill="#000" text-anchor="start" textLength="27.2" lengthAdjust="spacingAndGlyphs">Figure</text>
<text x="67" y="575.8" font-size="9.8" font-weight="bold" fill="#000" text-anchor="start" textLength="8.8" lengthAdjust="spacingAndGlyphs">1:</text>
<text x="80.6" y="575.8" font-size="9.8" font-weight="bold" fill="#000" text-anchor="start" textLength="13.4" lengthAdjust="spacingAndGlyphs">(A)</text>
<text x="100.1" y="575.8" font-size="9.8" font-weight="bold" fill="#000" text-anchor="start" textLength="45.1" lengthAdjust="spacingAndGlyphs">CONSORT</text>
<text x="151.3" y="575.8" font-size="9.8" font-weight="bold" fill="#000" text-anchor="start" textLength="39.1" lengthAdjust="spacingAndGlyphs">Diagram</text>
<text x="195.8" y="575.8" font-size="9.8" font-weight="bold" fill="#000" text-anchor="start" textLength="13.0" lengthAdjust="spacingAndGlyphs">(B)</text>
<text x="213.4" y="575.8" font-size="9.8" font-weight="bold" fill="#000" text-anchor="start" textLength="49.1" lengthAdjust="spacingAndGlyphs">Swimmers</text>
<text x="268.4" y="575.8" font-size="9.8" font-weight="bold" fill="#000" text-anchor="start" textLength="18.1" lengthAdjust="spacingAndGlyphs">plot</text>
<text x="291.2" y="575.8" font-size="9.8" font-weight="bold" fill="#000" text-anchor="start" textLength="9.8" lengthAdjust="spacingAndGlyphs">to</text>
<text x="306.5" y="575.8" font-size="9.8" font-weight="bold" fill="#000" text-anchor="start" textLength="28.8" lengthAdjust="spacingAndGlyphs">depict</text>
<text x="340.1" y="575.8" font-size="9.8" font-weight="bold" fill="#000" text-anchor="start" textLength="15.1" lengthAdjust="spacingAndGlyphs">the</text>
<text x="361" y="575.8" font-size="9.8" font-weight="bold" fill="#000" text-anchor="start" textLength="46.5" lengthAdjust="spacingAndGlyphs">responses</text>
<text x="412.9" y="575.8" font-size="9.8" font-weight="bold" fill="#000" text-anchor="start" textLength="9.4" lengthAdjust="spacingAndGlyphs">of</text>
<text x="426.7" y="575.8" font-size="9.8" font-weight="bold" fill="#000" text-anchor="start" textLength="15.5" lengthAdjust="spacingAndGlyphs">the</text>
<text x="447.6" y="575.8" font-size="9.8" font-weight="bold" fill="#000" text-anchor="start" textLength="38.4" lengthAdjust="spacingAndGlyphs">patients</text>
<text x="33.8" y="589.7" font-size="9.8" font-weight="bold" fill="#000" text-anchor="start" textLength="40.6" lengthAdjust="spacingAndGlyphs">receiving</text>
<text x="79.8" y="589.7" font-size="9.8" font-weight="bold" fill="#000" text-anchor="start" textLength="79.9" lengthAdjust="spacingAndGlyphs">Actalycabtagene</text>
<text x="163.4" y="589.7" font-size="9.8" font-weight="bold" fill="#000" text-anchor="start" textLength="51.1" lengthAdjust="spacingAndGlyphs">autoleucel.</text>
</svg>
</body></html>
